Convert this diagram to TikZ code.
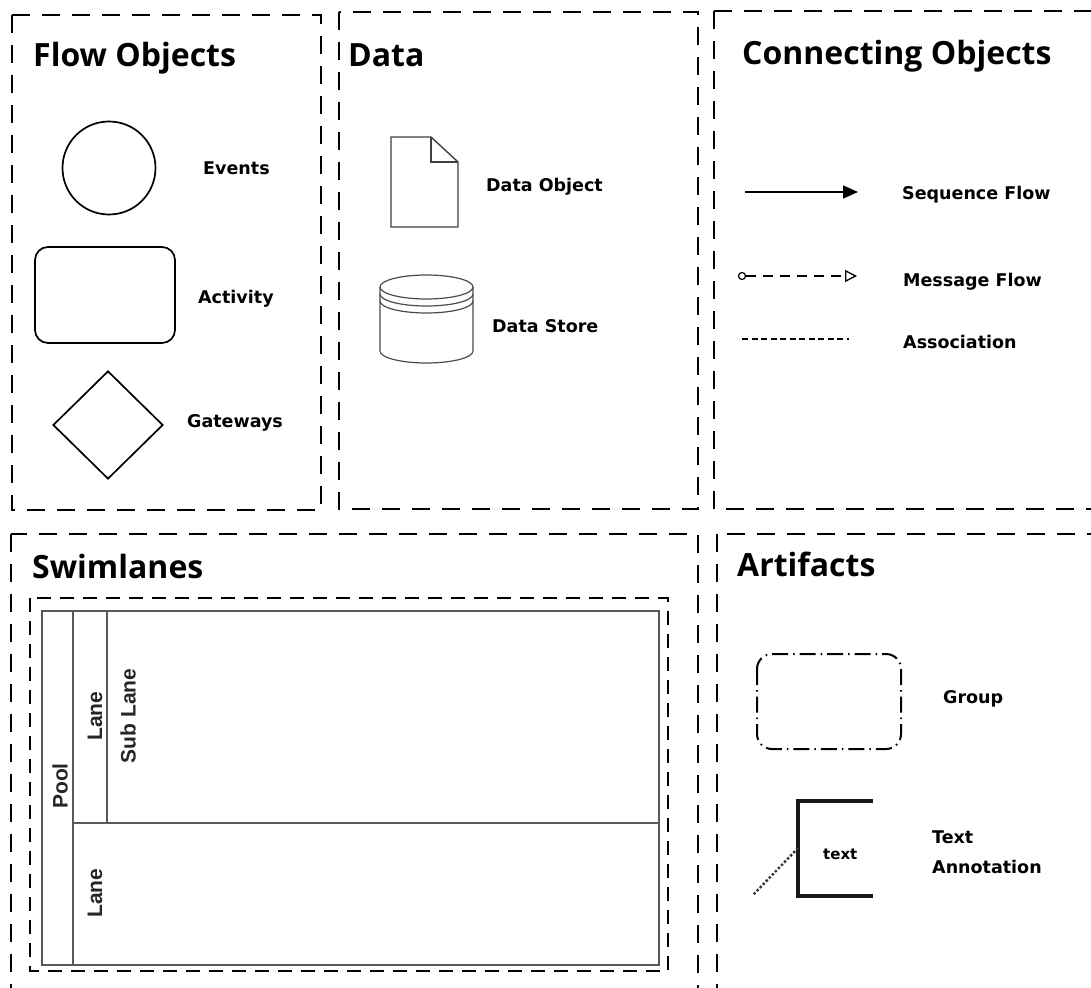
\documentclass[tikz,border=0pt]{standalone}
\usepackage{fontspec}
\setmainfont{DejaVu Sans}
\newfontfamily\titlefont{Open Sans}
\newfontfamily\lanefont{Liberation Sans}
\usetikzlibrary{arrows.meta,shapes.geometric,positioning}

\tikzset{
  panel/.style={line width=2.8pt, dash pattern=on 18pt off 12pt},
  paneltitle/.style={anchor=base west, inner sep=0pt, font=\titlefont\bfseries\fontsize{32}{35}\selectfont},
  legend/.style={anchor=base west, inner sep=0pt, font=\bfseries\fontsize{17.5}{21}\selectfont},
  lanelabel/.style={rotate=90, inner sep=0pt, text=black!85, font=\lanefont\bfseries\fontsize{21}{24}\selectfont},
  shapeline/.style={line width=1.7pt},
  poolline/.style={line width=1.4pt, draw=black!65},
}

\begin{document}
\begin{tikzpicture}[x=1pt, y=-1pt]
		\clip (0,0) rectangle (1091,987);
		\fill [white] (0,0) rectangle (1091,987);

		% Panels
		\draw [panel] (12,15) rectangle (321,510);
		\draw [panel] (339,12) rectangle (698,509);
		\draw [panel] (714,11) rectangle (1110,509);
		\draw [panel] (11,534) rectangle (698,1010);
		\draw [panel] (717,534) rectangle (1110,1010);

		\node [paneltitle] (flowtitle) at (33,67) {Flow Objects};
		\node [paneltitle] (datatitle) at (348,67) {Data};
		\node [paneltitle] (conntitle) at (742,65) {Connecting Objects};
		\node [paneltitle] (swimtitle) at (32,578) {Swimlanes};
		\node [paneltitle] (arttitle) at (737,576) {Artifacts};

		% Flow objects
		\node [draw, shapeline, circle, minimum size=93pt, inner sep=0pt] (event) at (109,168) {};
		\node [draw, shapeline, rounded corners=13pt, minimum width=140pt, minimum height=96pt] (activity) at (105,295) {};
		\node [draw, shapeline, diamond, minimum width=110pt, minimum height=108pt, inner sep=0pt] (gateway) at (108,425) {};
		\node [legend] (eventlabel) at (203,175) {Events};
		\node [legend] (activitylabel) at (198,303) {Activity};
		\node [legend] (gatewaylabel) at (187,427) {Gateways};

		% Data object and data store
		\draw [line width=1.4pt, black!75] (391,137) -- (431,137) -- (458,162) -- (458,227) -- (391,227) -- cycle;
		\draw [line width=1.4pt, black!75] (431,137) -- (431,162) -- (458,162);
		\draw [line width=1.2pt, black!70] (426.5,287) ellipse [x radius=46.5, y radius=12];
		\draw [line width=1.2pt, black!70] (380,287) -- (380,351) arc [start angle=180, end angle=0, x radius=46.5, y radius=12] -- (473,287);
		\draw [line width=1.2pt, black!70] (380,294) arc [start angle=180, end angle=0, x radius=46.5, y radius=12];
		\draw [line width=1.2pt, black!70] (380,301) arc [start angle=180, end angle=0, x radius=46.5, y radius=12];
		\node [legend] (objlabel) at (486,191) {Data Object};
		\node [legend] (storelabel) at (492,332) {Data Store};

		% Connecting objects
		\coordinate (seqA) at (745,192);
		\coordinate (seqB) at (858,192);
		\draw [line width=1.8pt, -{Triangle[length=15pt, width=13pt]}] (seqA) -- (seqB);
		\node [draw, line width=1.2pt, circle, minimum size=7pt, inner sep=0pt] (msgA) at (742,276) {};
		\coordinate (msgB) at (857,276);
		\draw [line width=1.3pt, dash pattern=on 10pt off 7pt, -{Triangle[open, length=12pt, width=12pt]}] (msgA) -- (msgB);
		\coordinate (assA) at (742,339);
		\coordinate (assB) at (849,339);
		\draw [line width=1.8pt, dash pattern=on 6pt off 3.5pt] (assA) -- (assB);
		\node [legend] (seqlabel) at (902,200) {Sequence Flow};
		\node [legend] (msglabel) at (903,286) {Message Flow};
		\node [legend] (asslabel) at (903,348) {Association};

		% Swimlanes
		\draw [line width=2.3pt, dash pattern=on 14pt off 9pt] (30,598) rectangle (668,971);
		\draw [poolline] (42,611) rectangle (659,965);
		\draw [poolline] (73,611) -- (73,965);
		\draw [poolline] (107,611) -- (107,823);
		\draw [poolline] (73,823) -- (659,823);
		\node [lanelabel] (pool) at (60,786) {Pool};
		\node [lanelabel] (lane1) at (95,716) {Lane};
		\node [lanelabel] (sublane) at (128,716) {Sub Lane};
		\node [lanelabel] (lane2) at (95,893) {Lane};

		% Artifacts
		\draw [line width=2pt, rounded corners=15pt, dash pattern=on 16pt off 5pt on 1.5pt off 5pt] (757,654) rectangle (901,749);
		\node [legend] (grouplabel) at (943,703) {Group};
		\draw [line width=3.2pt, black!90] (873,801) -- (798,801) -- (798,896) -- (873,896);
		\node [anchor=base west, inner sep=0pt, font=\bfseries\fontsize{15}{18}\selectfont] (annot) at (823,859) {text};
		\coordinate (dotA) at (798,848);
		\coordinate (dotB) at (753,895);
		\draw [line width=2.4pt, dotted, black!80] (dotA) -- (dotB);
		\node [legend] (annotlabel1) at (932,843) {Text};
		\node [legend] (annotlabel2) at (932,873) {Annotation};
	\end{tikzpicture}
\end{document}
